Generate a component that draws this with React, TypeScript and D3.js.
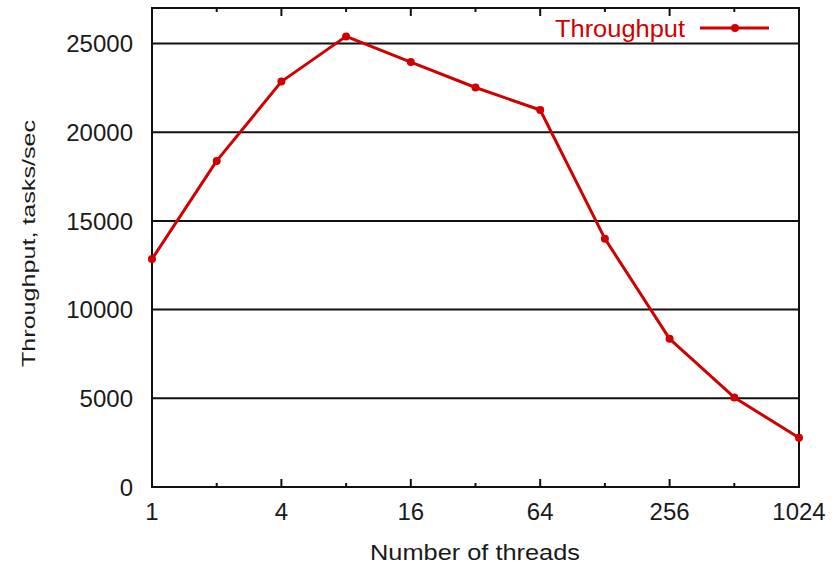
import React from "react";
import * as d3 from "d3";

const threads = [1, 2, 4, 8, 16, 32, 64, 128, 256, 512, 1024];
const throughput = [12850, 18380, 22850, 25400, 23950, 22520, 21250, 14000, 8350, 5050, 2780];
const yTicks = [0, 5000, 10000, 15000, 20000, 25000];
const xMajorTicks = [1, 4, 16, 64, 256, 1024];
const xMinorTicks = [2, 8, 32, 128, 512];
const seriesName = "Throughput";
const xTitle = "Number of threads";
const yTitle = "Throughput, tasks/sec";

export default function App() {
  const W = 835, H = 566;
  const L = 152, R = 799, T = 8, B = 487;
  const x = d3.scaleLog().base(2).domain([1, 1024]).range([L, R]);
  const y = d3.scaleLinear().domain([0, 27000]).range([B, T]);
  const line = d3.line<number>().x((_, i) => x(threads[i])).y((d) => y(d));
  const red = "#d00000";
  const ink = "#1a1a1a";
  const font = "Liberation Sans, Arial, Helvetica, sans-serif";
  return (
    <svg width={W} height={H} style={{ position: "absolute", left: 0, top: 0 }}>
      <rect width={W} height={H} fill="white" />
      {yTicks.map((t) => (
        <g key={t}>
          {t > 0 && <line x1={L} x2={R} y1={y(t)} y2={y(t)} stroke="#111" strokeWidth={2} />}
          <text x={133} y={y(t)} dy="0.36em" textAnchor="end" fontFamily={font} fontSize={24} fill={ink}>{t}</text>
        </g>
      ))}
      {xMajorTicks.map((t) => (
        <g key={t}>
          <line x1={x(t)} x2={x(t)} y1={B} y2={B - 8} stroke="#111" strokeWidth={2} />
          <line x1={x(t)} x2={x(t)} y1={T} y2={T + 8} stroke="#111" strokeWidth={2} />
          <text x={x(t)} y={520} textAnchor="middle" fontFamily={font} fontSize={24} fill={ink}>{t}</text>
        </g>
      ))}
      {xMinorTicks.map((t) => (
        <g key={t}>
          <line x1={x(t)} x2={x(t)} y1={B} y2={B - 4} stroke="#111" strokeWidth={2} />
          <line x1={x(t)} x2={x(t)} y1={T} y2={T + 4} stroke="#111" strokeWidth={2} />
        </g>
      ))}
      <rect x={L} y={T} width={R - L} height={B - T} fill="none" stroke="#111" strokeWidth={2} />
      <path d={line(throughput) || ""} fill="none" stroke={red} strokeWidth={3} strokeLinejoin="round" />
      {throughput.map((v, i) => (
        <circle key={i} cx={x(threads[i])} cy={y(v)} r={4} fill={red} />
      ))}
      <text x={555} y={36.5} textLength={130} lengthAdjust="spacingAndGlyphs" fontFamily={font} fontSize={23} fill={red}>{seriesName}</text>
      <line x1={700} x2={769} y1={28} y2={28} stroke={red} strokeWidth={3} />
      <circle cx={735} cy={28} r={4} fill={red} />
      <text x={370} y={560} textLength={210} lengthAdjust="spacingAndGlyphs" fontFamily={font} fontSize={22} fill={ink}>{xTitle}</text>
      <text transform={`translate(35,367) rotate(-90)`} textLength={247} lengthAdjust="spacingAndGlyphs" fontFamily={font} fontSize={19} fill={ink}>{yTitle}</text>
    </svg>
  );
}
